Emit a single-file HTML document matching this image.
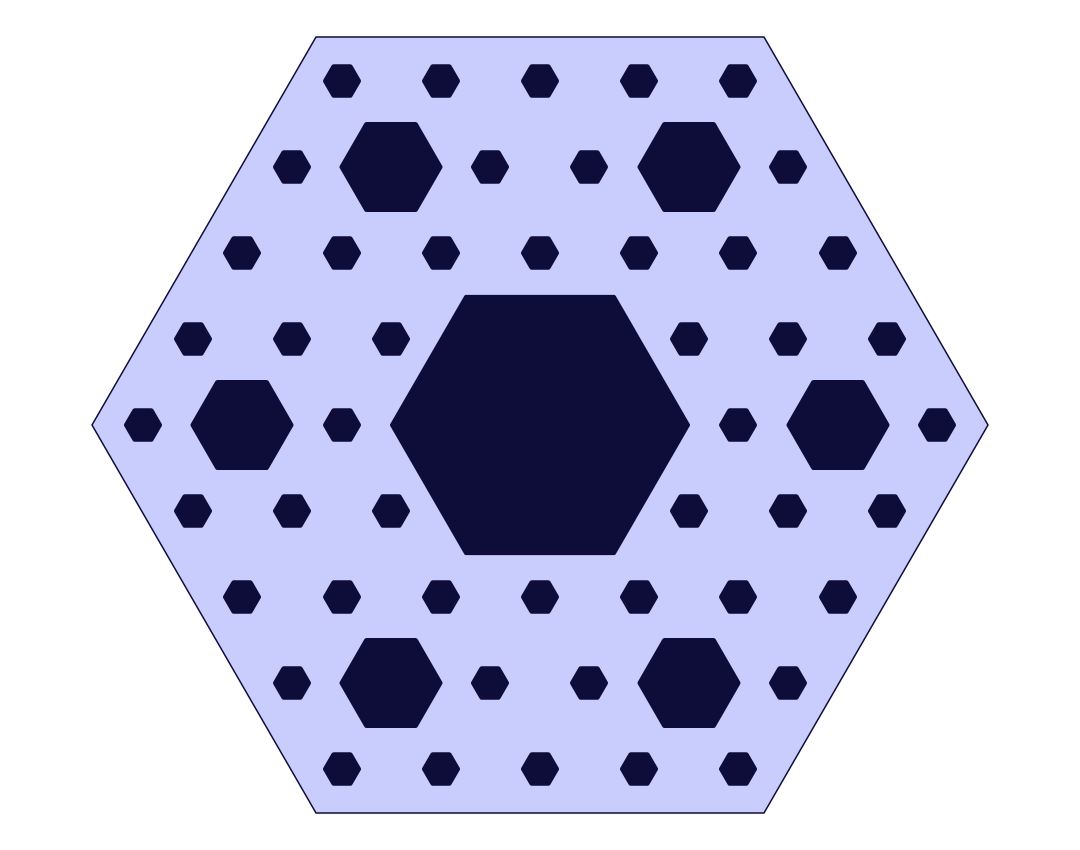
<!DOCTYPE html>
<html><head><meta charset="utf-8"><style>
html,body{margin:0;padding:0;background:#fff;width:1080px;height:850px;overflow:hidden}
</style></head><body>
<svg id="chart" width="1080" height="850" viewBox="0 0 1080 850" xmlns="http://www.w3.org/2000/svg"></svg>
<script>
const outerCenter = [540, 425];
const outerRadius = 448;
const largeHoles = [[540, 425]];
const mediumHoles = [[391,167],[689,167],[242,425],[838,425],[391,683],[689,683]];
const smallRows = [81,167,253,339,425,511,597,683,769];
const smallCols = [
  [342,441,540,639,738],
  [292,490,589,788],
  [242,342,441,540,639,738,838],
  [193,292,391,689,788,887],
  [143,342,738,937],
  [193,292,391,689,788,887],
  [242,342,441,540,639,738,838],
  [292,490,589,788],
  [342,441,540,639,738]
];
const NS = 'http://www.w3.org/2000/svg';
const svg = document.getElementById('chart');
function hexPts(cx, cy, r) {
  const p = [];
  for (let i = 0; i < 6; i++) {
    const a = Math.PI / 3 * i;
    p.push((cx + r * Math.cos(a)).toFixed(2) + ',' + (cy + r * Math.sin(a)).toFixed(2));
  }
  return p.join(' ');
}
function hex(cx, cy, r, fill, stroke, sw, name) {
  const el = document.createElementNS(NS, 'polygon');
  el.setAttribute('points', hexPts(cx, cy, r));
  el.setAttribute('fill', fill);
  el.setAttribute('stroke', stroke);
  el.setAttribute('stroke-width', sw);
  el.setAttribute('stroke-linejoin', 'round');
  
  
  svg.appendChild(el);
}
const dark = '#0e0c38', light = '#c9cdfd';
hex(outerCenter[0], outerCenter[1], outerRadius, light, dark, 1.5, 'outer-hexagon');
largeHoles.forEach(h => hex(h[0], h[1], 148, dark, dark, 4, 'large-hole'));
mediumHoles.forEach(h => hex(h[0], h[1], 49, dark, dark, 5, 'medium-hole'));
smallRows.forEach((y, i) => smallCols[i].forEach(x => hex(x, y, 16.5, dark, dark, 5, 'small-hole')));
</script>
</body></html>
